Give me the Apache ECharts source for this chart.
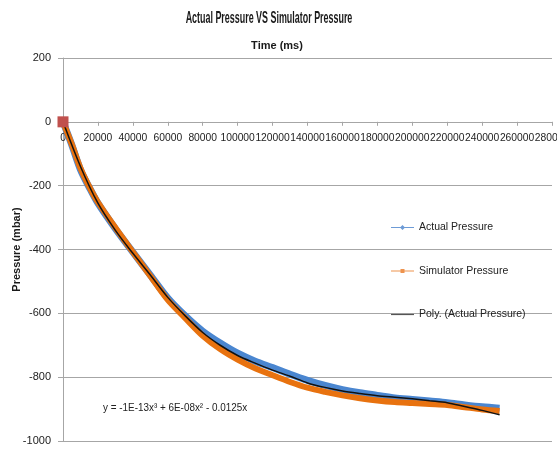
<!DOCTYPE html>
<html>
<head>
<meta charset="utf-8">
<script src="https://cdn.jsdelivr.net/npm/echarts@6/dist/echarts.min.js"></script>
<style>
  html, body { margin: 0; padding: 0; background: #fff; }
  #main { width: 557px; height: 450px; }
</style>
</head>
<body>
<div id="main"></div>
<script>
// time in ms, shared by both measured series
const timeMs = [0, 5000, 10000, 15000, 20000, 30000, 40000, 50000, 60000, 70000,
  80000, 90000, 100000, 110000, 120000, 130000, 140000, 150000, 160000, 170000,
  180000, 190000, 200000, 210000, 220000, 230000, 240000, 250000]

const actualPressure = [0, -72, -150, -205, -255, -335, -408, -480, -552, -608,
  -656, -693, -725, -750, -770, -791, -810, -826, -839, -849,
  -857, -865, -870, -875, -880, -887, -893, -897]

const simulatorPressure = [0, -70, -145, -203, -252, -332, -408, -483, -558, -615,
  -670, -712, -745, -772, -794, -815, -833, -846, -857, -866,
  -873, -878, -881, -884, -887, -894, -901, -906]

// trendline
const polyTime = [0, 10000, 20000, 30000, 40000, 50000, 60000, 70000, 80000, 90000,
  100000, 110000, 120000, 130000, 140000, 150000, 160000, 170000, 180000, 190000,
  200000, 210000, 220000, 230000, 240000, 250000]
const polyPressure = [0, -140, -255, -340, -412, -480, -550, -608, -660, -700,
  -732, -756, -778, -797, -818, -832, -843, -851, -858, -863,
  -868, -874, -880, -892, -904, -918]

const seriesNames = ["Actual Pressure", "Simulator Pressure", "Poly. (Actual Pressure)"]
const equationText = "y = -1E-13x³ + 6E-08x² - 0.0125x"

const pair = (xs, ys) => xs.map((x, i) => [x, ys[i]])

// legend icons: thin line with a marker in the middle
const lineDiamond = "path://M0,2.6L23,2.6L23,3.4L0,3.4Z M11.5,0.5L14,3L11.5,5.5L9,3Z"
const lineSquare = "path://M0,2.6L23,2.6L23,3.4L0,3.4Z M9.5,1L13.5,1L13.5,5L9.5,5Z"
const lineOnly = "path://M0,2.4L23,2.4L23,3.6L0,3.6Z"

const chart = echarts.init(document.getElementById("main"))

const option = {
  backgroundColor: "#fff",
  animation: false,
  textStyle: { fontFamily: "Liberation Sans" },
  grid: { left: 63, right: 5, top: 58, bottom: 9, outerBoundsMode: "none", containLabel: false },
  graphic: [
    {
      type: "text",
      x: 269,
      y: 18,
      scaleX: 0.525,
      style: {
        text: "Actual Pressure VS Simulator Pressure",
        fontFamily: "Liberation Sans",
        fontSize: 17,
        fontWeight: "bold",
        fill: "#1a1a1a",
        align: "center",
        verticalAlign: "middle",
      },
    },
    {
      type: "text",
      x: 277,
      y: 46,
      style: {
        text: "Time (ms)",
        fontFamily: "Liberation Sans",
        fontSize: 11,
        fontWeight: "bold",
        fill: "#1a1a1a",
        align: "center",
        verticalAlign: "middle",
      },
    },
    {
      type: "text",
      x: 103,
      y: 408,
      scaleX: 0.9,
      style: {
        text: equationText,
        fontFamily: "Liberation Sans",
        fontSize: 11,
        fill: "#222",
        align: "left",
        verticalAlign: "middle",
      },
    },
  ],
  legend: {
    orient: "vertical",
    left: 386,
    top: 217,
    itemGap: 32.5,
    itemWidth: 23,
    itemHeight: 6,
    symbolKeepAspect: true,
    textStyle: { fontSize: 10.5, color: "#222", fontFamily: "Liberation Sans" },
    data: [
      { name: seriesNames[0], icon: lineDiamond, itemStyle: { color: "#6d9bd6" } },
      { name: seriesNames[1], icon: lineSquare, itemStyle: { color: "#ee934e" } },
      { name: seriesNames[2], icon: lineOnly, itemStyle: { color: "#555" } },
    ],
  },
  xAxis: {
    type: "value",
    min: 0,
    max: 280000,
    interval: 20000,
    position: "top",
    offset: -63.8,
    axisLine: { show: true, onZero: false, lineStyle: { color: "#a6a6a6" } },
    axisTick: { show: true, inside: true, length: 4, lineStyle: { color: "#a6a6a6" } },
    axisLabel: {
      inside: true,
      fontSize: 10.3,
      color: "#222",
      margin: 11,
      showMinLabel: true,
      showMaxLabel: true,
      hideOverlap: false,
      formatter: v => String(v),
    },
    splitLine: { show: false },
  },
  yAxis: {
    type: "value",
    min: -1000,
    max: 200,
    interval: 200,
    name: "Pressure (mbar)",
    nameLocation: "middle",
    nameGap: 41,
    nameMoveOverlap: false,
    nameTextStyle: { fontSize: 11, fontWeight: "bold", color: "#1a1a1a" },
    axisLine: { show: true, onZero: false, lineStyle: { color: "#a6a6a6" } },
    axisTick: { show: true, length: 5, lineStyle: { color: "#a6a6a6" } },
    axisLabel: { fontSize: 11, color: "#222", margin: 12, formatter: v => String(v) },
    splitLine: { show: true, lineStyle: { color: "#a6a6a6", width: 1 } },
  },
  series: [
    {
      name: seriesNames[0],
      type: "line",
      smooth: 0.3,
      showSymbol: false,
      data: pair(timeMs, actualPressure),
      lineStyle: { width: 7, color: "#4a86d0" },
      itemStyle: { color: "#4a86d0" },
      z: 2,
    },
    {
      name: seriesNames[1],
      type: "line",
      smooth: 0.3,
      showSymbol: false,
      data: pair(timeMs, simulatorPressure),
      lineStyle: { width: 6, color: "#e8720f" },
      itemStyle: { color: "#e8720f" },
      z: 3,
    },
    {
      name: seriesNames[2],
      type: "line",
      smooth: 0.3,
      symbol: "none",
      data: pair(polyTime, polyPressure),
      lineStyle: { width: 1.5, color: "#111" },
      itemStyle: { color: "#555" },
      z: 4,
    },
    {
      type: "scatter",
      symbol: "rect",
      symbolSize: 11,
      data: [[timeMs[0], simulatorPressure[0]]],
      itemStyle: { color: "#c0504d", opacity: 1 },
      z: 5,
    },
  ],
}

option && chart.setOption(option)
</script>
</body>
</html>
